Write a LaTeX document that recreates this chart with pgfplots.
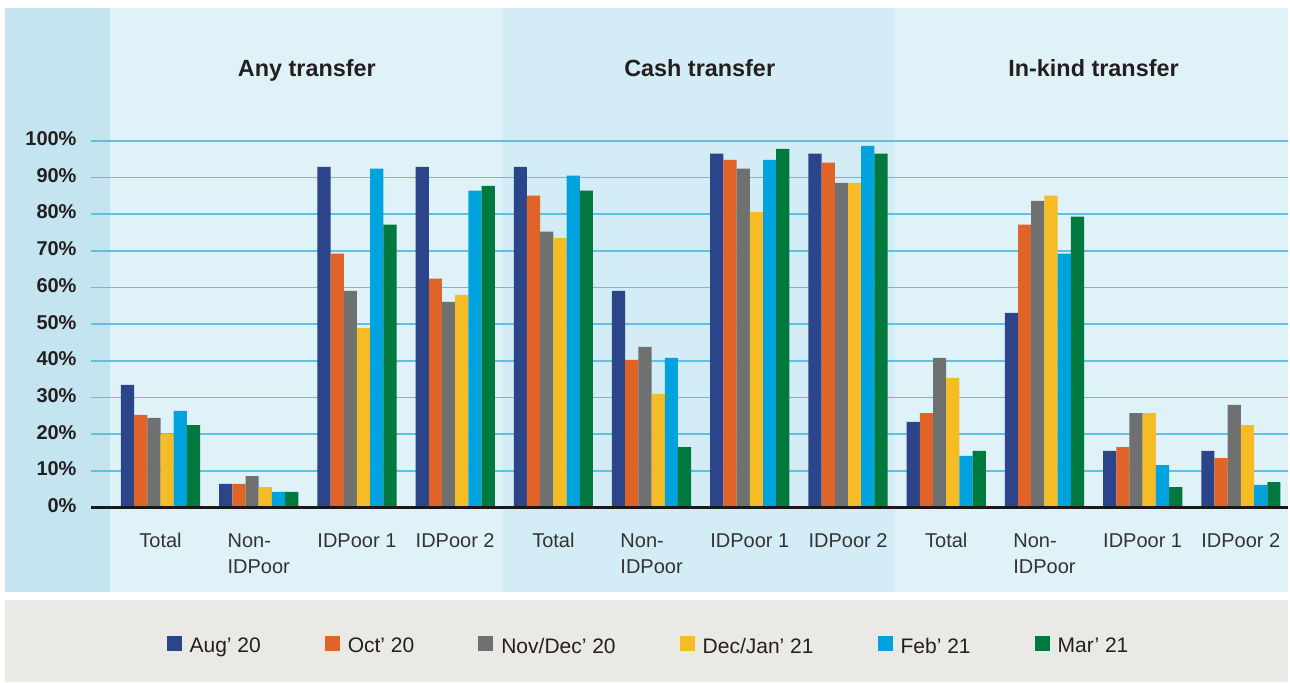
\documentclass[border=0pt]{standalone}
\usepackage{pgfplots}
\pgfplotsset{compat=1.18}
\usepackage{fontspec}
\setmainfont{Liberation Sans}
\definecolor{c1}{RGB}{44,69,138}
\definecolor{c2}{RGB}{224,99,40}
\definecolor{c3}{RGB}{111,113,112}
\definecolor{c4}{RGB}{245,188,38}
\definecolor{c5}{RGB}{0,163,221}
\definecolor{c6}{RGB}{0,121,63}
\definecolor{gridc}{RGB}{95,192,226}
\definecolor{leftbg}{RGB}{196,229,240}
\definecolor{lightbg}{RGB}{223,242,248}
\definecolor{midbg}{RGB}{211,236,245}
\definecolor{legbg}{RGB}{235,233,229}
\definecolor{txt}{RGB}{35,31,32}
\pgfplotsset{sq/.style={legend image code/.code={\fill[##1] (0pt,-2pt) rectangle (7.5pt,5.5pt); \path (9.5pt,0pt);}}}
\begin{document}
\begin{tikzpicture}
\path (-45.5pt,-87.15pt) rectangle (599.5pt,253.85pt);
\begin{axis}[
  set layers, clip=false,
  at={(0pt,0pt)}, anchor=south west,
  scale only axis, width=598.5pt, height=183.5pt,
  xmin=-0.708, xmax=11.48, ymin=0, ymax=100,
  ybar=0pt, bar width=6.6pt,
  axis line style={draw=none},
  major tick length=0pt,
  ytick={0,10,20,30,40,50,60,70,80,90,100},
  yticklabels={0\%,10\%,20\%,30\%,40\%,50\%,60\%,70\%,80\%,90\%,100\%},
  yticklabel style={font=\fontsize{10}{12}\selectfont\bfseries, text=txt, anchor=east, xshift=-3.7pt, yshift=1pt},
  ymajorgrids, grid style={color=gridc, line width=0.85pt},
  xtick={0,1,2,3,4,5,6,7,8,9,10,11},
  xticklabels={Total,{Non-\\IDPoor},IDPoor 1,IDPoor 2,Total,{Non-\\IDPoor},IDPoor 1,IDPoor 2,Total,{Non-\\IDPoor},IDPoor 1,IDPoor 2},
  xticklabel style={font=\fontsize{10}{13}\selectfont, text=black!80, align=left, anchor=north, yshift=-9.3pt},
  legend columns=6,
  legend style={at={(0.4666,-0.3800)}, anchor=center, draw=none, fill=none,
    font=\fontsize{10.5}{12}\selectfont, text=txt,
    /tikz/every even column/.append style={column sep=30pt}},
  legend cell align=left,
]
\begin{pgfonlayer}{axis background}
\fill[leftbg] (axis cs:-1.584,-22.97) rectangle (axis cs:-0.514,136.2);
\fill[lightbg] (axis cs:-0.514,-22.97) rectangle (axis cs:3.488,136.2);
\fill[midbg] (axis cs:3.488,-22.97) rectangle (axis cs:7.481,136.2);
\fill[lightbg] (axis cs:7.481,-22.97) rectangle (axis cs:11.48,136.2);
\fill[legbg] (axis cs:-1.584,-25.2) rectangle (axis cs:11.48,-47.6);
\end{pgfonlayer}
\addplot[fill=c1, draw=none, sq] coordinates {(0,33.5) (1,6.5) (2,92.9) (3,92.9) (4,92.9) (5,59.1) (6,96.5) (7,96.5) (8,23.4) (9,53.1) (10,15.5) (11,15.5)};
\addplot[fill=c2, draw=none, sq] coordinates {(0,25.3) (1,6.5) (2,69.2) (3,62.4) (4,85.0) (5,40.3) (6,94.8) (7,94.0) (8,25.8) (9,77.1) (10,16.5) (11,13.5)};
\addplot[fill=c3, draw=none, sq] coordinates {(0,24.5) (1,8.6) (2,59.1) (3,56.1) (4,75.2) (5,43.8) (6,92.4) (7,88.5) (8,40.8) (9,83.6) (10,25.8) (11,28.0)};
\addplot[fill=c4, draw=none, sq] coordinates {(0,20.1) (1,5.6) (2,49.0) (3,58.0) (4,73.5) (5,31.0) (6,80.6) (7,88.5) (8,35.4) (9,85.0) (10,25.8) (11,22.5)};
\addplot[fill=c5, draw=none, sq] coordinates {(0,26.4) (1,4.3) (2,92.4) (3,86.4) (4,90.5) (5,40.8) (6,94.8) (7,98.6) (8,14.1) (9,69.2) (10,11.6) (11,6.2)};
\addplot[fill=c6, draw=none, sq] coordinates {(0,22.5) (1,4.3) (2,77.1) (3,87.7) (4,86.4) (5,16.5) (6,97.8) (7,96.5) (8,15.5) (9,79.3) (10,5.6) (11,7.0)};
\legend{Aug’ 20,Oct’ 20,Nov/Dec’ 20,Dec/Jan’ 21,Feb’ 21,Mar’ 21}
\draw[black!90, line width=1.7pt] (axis cs:-0.708,0) -- (axis cs:11.48,0);
\node[font=\fontsize{11.7}{14}\selectfont\bfseries, text=txt, anchor=base] at (axis cs:1.49,117.5) {Any transfer};
\node[font=\fontsize{11.7}{14}\selectfont\bfseries, text=txt, anchor=base] at (axis cs:5.49,117.5) {Cash transfer};
\node[font=\fontsize{11.7}{14}\selectfont\bfseries, text=txt, anchor=base] at (axis cs:9.50,117.5) {In-kind transfer};
\end{axis}
\end{tikzpicture}
\end{document}
